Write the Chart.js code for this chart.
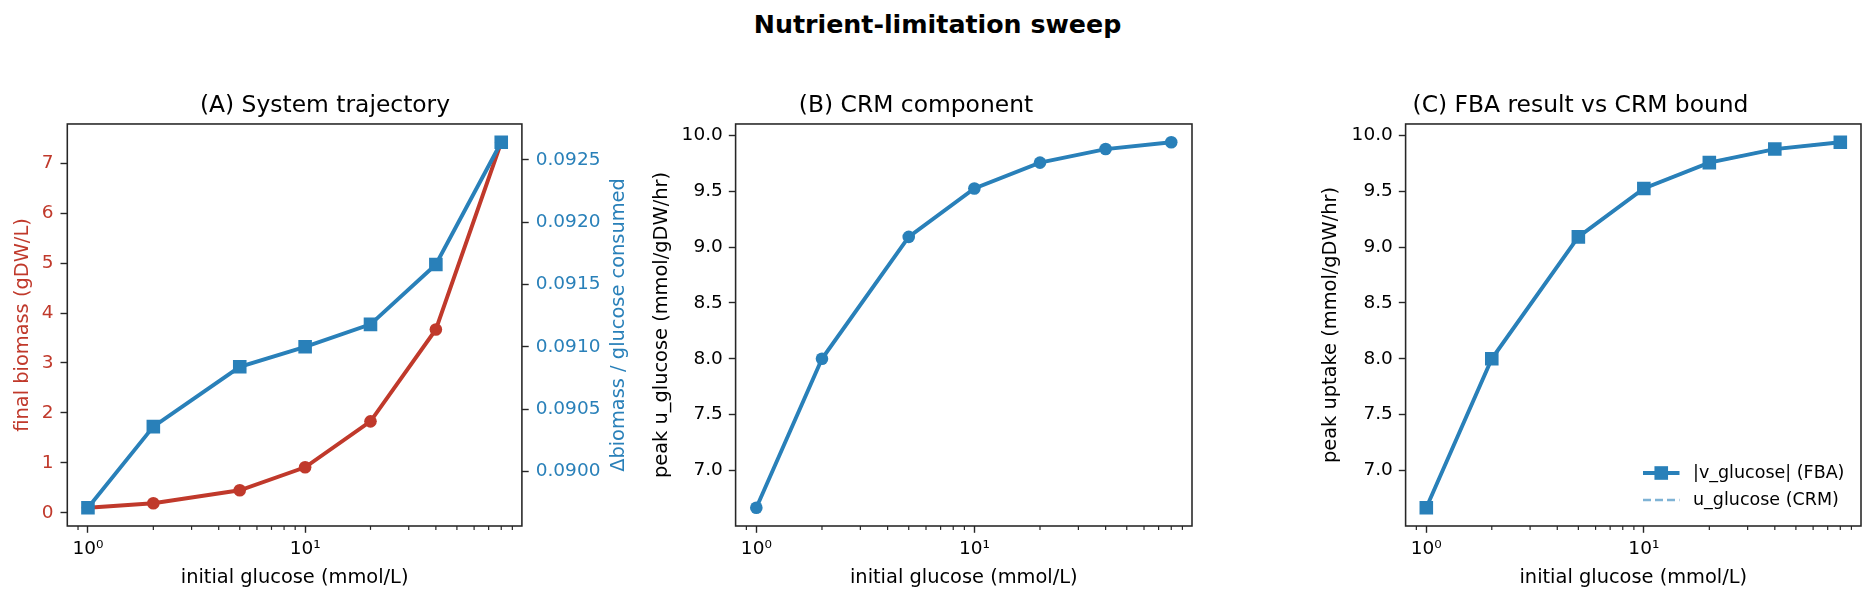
<!DOCTYPE html>
<html>
<head>
<meta charset="utf-8">
<script src="https://cdn.jsdelivr.net/npm/chart.js@4.4.1/dist/chart.umd.min.js"></script>
<style>
  body { margin: 0; background: #fff; }
  #fig { position: relative; width: 1875px; height: 602px; overflow: hidden; }
  #fig canvas { position: absolute; }
  #sup { position: absolute; left: 0; top: 12px; width: 1875px; text-align: center;
         font: bold 25.3px "DejaVu Sans"; line-height: 25px; color: #000; }
</style>
</head>
<body>
<div id="fig">
  <div id="sup">Nutrient-limitation sweep</div>
  <canvas id="chartA" width="650" height="510" style="left:0px;top:92px"></canvas>
  <canvas id="chartB" width="580" height="510" style="left:640px;top:92px"></canvas>
  <canvas id="chartC" width="575" height="510" style="left:1300px;top:92px"></canvas>
</div>
<script>
// data
const glucose = [1, 2, 5, 10, 20, 40, 80];
const finalBiomass = [0.10, 0.19, 0.45, 0.91, 1.83, 3.67, 7.42];
const yieldRatio = [0.08971, 0.09036, 0.09084, 0.09100, 0.09118, 0.09166, 0.09264];
const peakU = [6.667, 8.000, 9.091, 9.524, 9.756, 9.877, 9.938];
const peakV = [6.667, 8.000, 9.091, 9.524, 9.756, 9.877, 9.938];

// tick labels
const xTickLabels = { 1: '10\u2070', 10: '10\u00b9' };
const biomassTicks = [0, 1, 2, 3, 4, 5, 6, 7];
const ratioTicks = [0.0900, 0.0905, 0.0910, 0.0915, 0.0920, 0.0925];
const uptakeTicks = [7.0, 7.5, 8.0, 8.5, 9.0, 9.5, 10.0];

const RED = '#c0392b', BLUE = '#2980b9', INK = '#262626';
const TICK = 18.5, LABEL = 19.4, TITLE = 23.4, LEG = 17.5;
const LW = 3.9;

Chart.defaults.font.family = '"DejaVu Sans", sans-serif';
Chart.defaults.color = '#000';

// minor log ticks
const minorTicks = [];
[0.1, 1, 10].forEach(d => { for (let k = 2; k <= 9; k++) minorTicks.push(k * d); });

// matplotlib-like 5% margins
function margin(vals, log) {
  const f = log ? Math.log10 : (v => v);
  const t = vals.map(f);
  const lo = Math.min(...t), hi = Math.max(...t);
  const p = (hi - lo) * 0.05;
  return log ? [Math.pow(10, lo - p), Math.pow(10, hi + p)] : [lo - p, hi + p];
}

const xr = margin(glucose, true);

function xAxis() {
  return {
    type: 'logarithmic', min: xr[0], max: xr[1],
    afterBuildTicks: s => { s.ticks = [1, 10].map(v => ({ value: v })); },
    afterFit: s => { s.height = 76; },
    ticks: { callback: v => xTickLabels[v] || '', font: { size: TICK }, color: '#000',
             padding: 5, maxRotation: 0, autoSkip: false },
    grid: { drawOnChartArea: false, tickLength: 6.8, tickWidth: 1.4, tickColor: INK },
    border: { display: false },
    title: { display: true, text: 'initial glucose (mmol/L)', font: { size: LABEL }, color: '#000',
             padding: { top: 0, bottom: 12.4 } }
  };
}

function yAxis(o) {
  return {
    type: 'linear', position: o.pos || 'left', min: o.range[0], max: o.range[1],
    afterBuildTicks: s => { s.ticks = o.ticks.map(v => ({ value: v })); },
    afterFit: s => { s.width = o.width; },
    ticks: { callback: v => v.toFixed(o.dec), font: { size: TICK }, color: o.color, padding: o.pad || 6 },
    grid: { drawOnChartArea: false, tickLength: 6.8, tickWidth: 1.4, tickColor: INK },
    border: { display: false },
    title: o.title ? { display: true, text: o.title, color: o.color, font: { size: LABEL },
                       padding: { top: o.titlePad, bottom: 0 } } : { display: false }
  };
}

function panelTitle(text) {
  return { display: true, text: text, color: '#000', font: { size: TITLE, weight: 'normal' },
           padding: { top: 0, bottom: 3.9 } };
}

function pts(ys) {
  return glucose.map((g, i) => ({ x: g, y: ys[i] }));
}

// frame, minor ticks, right label, legend
const extras = {
  id: 'extras',
  afterDatasetsDraw(chart, args, o) {
    const { ctx, chartArea: a } = chart;
    const sx = chart.scales.x;
    ctx.save();
    ctx.strokeStyle = INK;
    ctx.lineWidth = 1.2;
    minorTicks.forEach(v => {
      if (v <= sx.min || v >= sx.max) return;
      const px = sx.getPixelForValue(v);
      ctx.beginPath(); ctx.moveTo(px, a.bottom); ctx.lineTo(px, a.bottom + 3.9); ctx.stroke();
    });
    ctx.lineWidth = 1.56;
    ctx.strokeRect(a.left, a.top, a.right - a.left, a.bottom - a.top);

    if (o.rightLabel) {
      ctx.save();
      ctx.translate(o.rightLabel.x, (a.top + a.bottom) / 2);
      ctx.rotate(-Math.PI / 2);
      ctx.fillStyle = o.rightLabel.color;
      ctx.font = LABEL + 'px "DejaVu Sans"';
      ctx.textAlign = 'center';
      ctx.textBaseline = 'middle';
      ctx.fillText(o.rightLabel.text, 0, 0);
      ctx.restore();
    }

    if (o.legend) {
      o.legend.forEach((it, i) => {
        const y = a.bottom - 53 + i * 27;
        const x0 = a.right - 218, x1 = a.right - 181.5;
        ctx.save();
        ctx.strokeStyle = it.color;
        ctx.lineWidth = it.width;
        ctx.setLineDash(it.dash || []);
        ctx.beginPath(); ctx.moveTo(x0, y); ctx.lineTo(x1, y); ctx.stroke();
        ctx.setLineDash([]);
        if (it.marker) {
          ctx.fillStyle = it.color;
          ctx.fillRect((x0 + x1) / 2 - 6.8, y - 6.8, 13.6, 13.6);
        }
        ctx.fillStyle = '#000';
        ctx.font = LEG + 'px "DejaVu Sans"';
        ctx.textAlign = 'left';
        ctx.textBaseline = 'middle';
        ctx.fillText(it.label, a.right - 168, y);
        ctx.restore();
      });
    }
    ctx.restore();
  }
};

const common = {
  responsive: false,
  animation: false,
  events: [],
  layout: { padding: 0 }
};

// (A) System trajectory
new Chart(document.getElementById('chartA'), {
  type: 'line',
  data: {
    datasets: [{
      label: 'Δbiomass / glucose consumed',
      data: pts(yieldRatio),
      yAxisID: 'y1',
      borderColor: BLUE, backgroundColor: BLUE, borderWidth: LW,
      pointStyle: 'rect', pointRadius: 9.6, pointBorderWidth: 0,
      order: 0
    }, {
      label: 'final biomass (gDW/L)',
      data: pts(finalBiomass),
      yAxisID: 'y',
      borderColor: RED, backgroundColor: RED, borderWidth: LW,
      pointStyle: 'circle', pointRadius: 6.3, pointBorderWidth: 0,
      order: 1
    }]
  },
  options: Object.assign({}, common, {
    scales: {
      x: xAxis(),
      y: yAxis({ range: margin(finalBiomass), ticks: biomassTicks, dec: 0, width: 67.3,
                 color: RED, title: 'final biomass (gDW/L)', titlePad: 11.4, pad: 7 }),
      y1: yAxis({ pos: 'right', range: margin(yieldRatio), ticks: ratioTicks, dec: 4, width: 128.1,
                  color: BLUE, pad: 7 })
    },
    plugins: {
      title: panelTitle('(A) System trajectory'),
      legend: { display: false },
      tooltip: { enabled: false },
      extras: { rightLabel: { x: 619, text: 'Δbiomass / glucose consumed', color: BLUE } }
    }
  }),
  plugins: [extras]
});

// (B) CRM component
new Chart(document.getElementById('chartB'), {
  type: 'line',
  data: {
    datasets: [{
      label: 'u_glucose',
      data: pts(peakU),
      borderColor: BLUE, backgroundColor: BLUE, borderWidth: LW,
      pointStyle: 'circle', pointRadius: 6.3, pointBorderWidth: 0
    }]
  },
  options: Object.assign({}, common, {
    layout: { padding: { right: 28 } },
    scales: {
      x: xAxis(),
      y: yAxis({ range: margin(peakU), ticks: uptakeTicks, dec: 1, width: 95.6,
                 color: '#000', title: 'peak u_glucose (mmol/gDW/hr)', titlePad: 10.4 })
    },
    plugins: {
      title: panelTitle('(B) CRM component'),
      legend: { display: false },
      tooltip: { enabled: false },
      extras: {}
    }
  }),
  plugins: [extras]
});

// (C) FBA result vs CRM bound
new Chart(document.getElementById('chartC'), {
  type: 'line',
  data: {
    datasets: [{
      label: 'u_glucose (CRM)',
      data: pts(peakU),
      borderColor: 'rgba(41,128,185,0.6)', borderWidth: 2.7, borderDash: [8, 4],
      pointRadius: 0,
      order: 0
    }, {
      label: '|v_glucose| (FBA)',
      data: pts(peakV),
      borderColor: BLUE, backgroundColor: BLUE, borderWidth: LW,
      pointStyle: 'rect', pointRadius: 9.6, pointBorderWidth: 0,
      order: 1
    }]
  },
  options: Object.assign({}, common, {
    layout: { padding: { right: 14 } },
    scales: {
      x: xAxis(),
      y: yAxis({ range: margin(peakV), ticks: uptakeTicks, dec: 1, width: 105.6,
                 color: '#000', title: 'peak uptake (mmol/gDW/hr)', titlePad: 19.4 })
    },
    plugins: {
      title: panelTitle('(C) FBA result vs CRM bound'),
      legend: { display: false },
      tooltip: { enabled: false },
      extras: {
        legend: [
          { label: '|v_glucose| (FBA)', color: BLUE, width: LW, marker: true },
          { label: 'u_glucose (CRM)', color: 'rgba(41,128,185,0.6)', width: 2.7, dash: [8, 4] }
        ]
      }
    }
  }),
  plugins: [extras]
});
</script>
</body>
</html>
